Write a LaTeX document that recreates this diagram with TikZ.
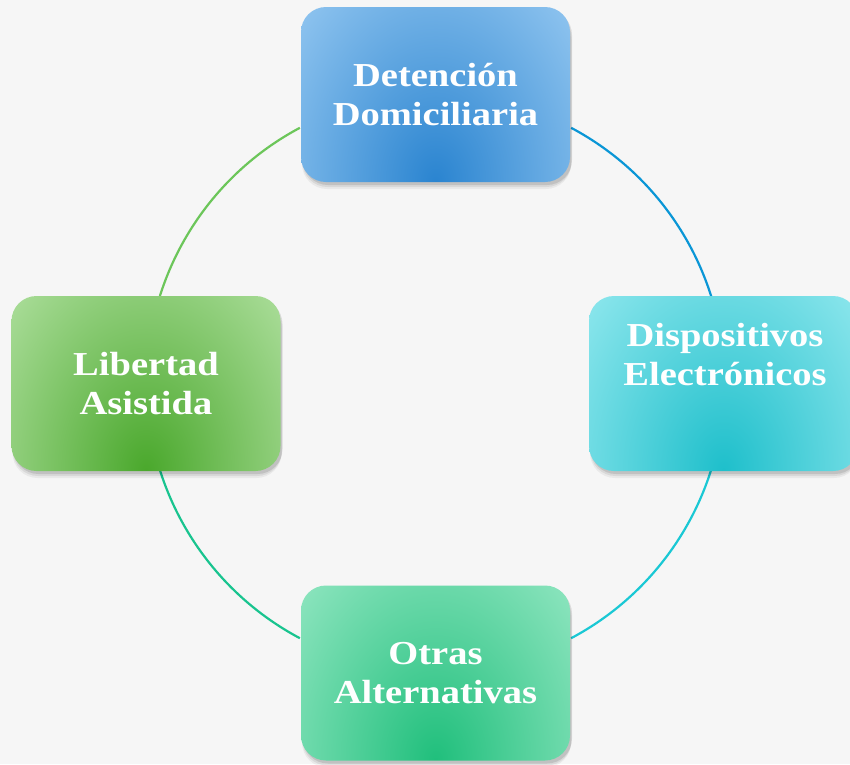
\documentclass[tikz,border=0pt]{standalone}
\usepackage{fontspec}
\setmainfont{Liberation Serif}[FakeStretch=1.15]
\usetikzlibrary{calc}
\definecolor{bgc}{HTML}{F6F6F6}
\definecolor{arcA}{HTML}{0A96D6}
\definecolor{arcB}{HTML}{1AC8D4}
\definecolor{arcC}{HTML}{19C48F}
\definecolor{arcD}{HTML}{6CC65A}
\definecolor{topIn}{HTML}{2A84D0}
\definecolor{topOut}{HTML}{A8D4F7}
\definecolor{rgtIn}{HTML}{1EBFCB}
\definecolor{rgtOut}{HTML}{A8F0F5}
\definecolor{lftIn}{HTML}{4AA82C}
\definecolor{lftOut}{HTML}{C2EAB4}
\definecolor{botIn}{HTML}{20BF7C}
\definecolor{botOut}{HTML}{A8EECF}
\tikzset{
  ring/.style={line width=2.2pt},
  card/.style={rounded corners=25pt, inner sep=0pt, text=white, align=center,
    font=\bfseries\fontsize{33.5}{39}\selectfont},
  shadowed/.style={
    preaction={fill=black, opacity=0.05, transform canvas={xshift=1pt,yshift=-7pt}},
    preaction={fill=black, opacity=0.07, transform canvas={xshift=1.5pt,yshift=-5pt}},
    preaction={fill=black, opacity=0.10, transform canvas={xshift=2pt,yshift=-3pt}}},
  cardshade/.style 2 args={path picture={
    \shade[inner color=#1, outer color=#2] (path picture bounding box.south) ellipse (230pt and 320pt);}},
  txt/.style={text=white, align=center, font=\bfseries\fontsize{33.5}{39}\selectfont}
}
\begin{document}
\begin{tikzpicture}[x=1pt,y=-1pt]
\fill[bgc] (0,0) rectangle (850,764);
\useasboundingbox (0,0) rectangle (850,764);
\coordinate (c) at (435.5,383);
% ring arcs (y axis points down, so angles are mirrored)
\draw[ring, arcA] (c) ++(-62:289) arc (-62:-15:289);
\draw[ring, arcB] (c) ++(15:289) arc (15:62:289);
\draw[ring, arcC] (c) ++(118:289) arc (118:165:289);
\draw[ring, arcD] (c) ++(195:289) arc (195:242:289);
% cards
\node[card, shadowed, cardshade={topIn}{topOut}, minimum width=269pt, minimum height=175pt] (top) at (435.5,94.5) {Detención\\Domiciliaria};
\node[card, shadowed, cardshade={lftIn}{lftOut}, minimum width=269pt, minimum height=175pt] (left) at (146,383.5) {Libertad\\Asistida};
\node[card, shadowed, cardshade={botIn}{botOut}, minimum width=269pt, minimum height=175pt] (bottom) at (435.5,673) {Otras\\Alternativas};
\node[card, shadowed, cardshade={rgtIn}{rgtOut}, minimum width=269pt, minimum height=175pt] (right) at (723.5,383.5) {};
\node[txt] (rightlabel) at (725,355) {Dispositivos\\Electrónicos};
\end{tikzpicture}
\end{document}
